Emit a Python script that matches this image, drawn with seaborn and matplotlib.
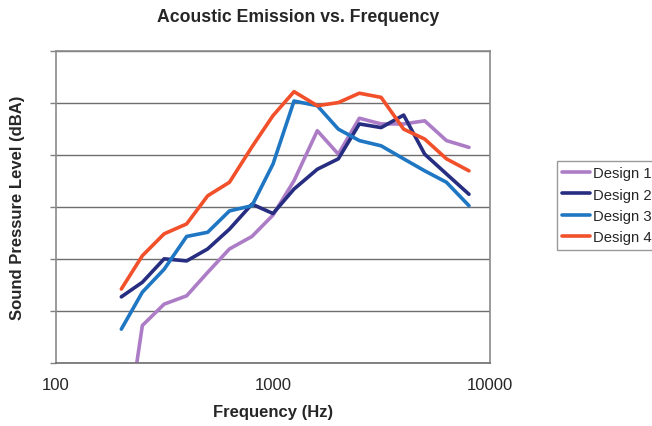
import numpy as np
import pandas as pd
import matplotlib
matplotlib.use('Agg')
import matplotlib.pyplot as plt
import seaborn as sns

sns.set_style('white')
plt.rcParams['font.family'] = ['Liberation Sans', 'DejaVu Sans']

# 1/3 octave band centre frequencies (Hz)
freq = [200, 250, 315, 400, 500, 630, 800, 1000, 1250, 1600,
        2000, 2500, 3150, 4000, 5000, 6300, 8000]

# sound pressure level (arbitrary dBA offset, grid every 10)
design1 = [-20.0, 7.2, 11.3, 12.9, 17.4, 21.9, 24.3, 28.4, 35.0, 44.6,
           40.1, 47.0, 45.9, 45.9, 46.5, 42.7, 41.4]
design2 = [12.7, 15.5, 20.0, 19.6, 21.9, 25.7, 30.5, 28.7, 33.4, 37.2,
           39.2, 45.9, 45.2, 47.6, 40.1, 36.3, 32.4]
design3 = [6.5, 13.6, 18.0, 24.3, 25.1, 29.2, 30.2, 38.2, 50.3, 49.4,
           44.9, 42.7, 41.7, 39.2, 36.9, 34.7, 30.2]
design4 = [14.2, 20.6, 24.8, 26.7, 32.1, 34.7, 41.5, 47.5, 52.1, 49.4,
           50.0, 51.8, 51.0, 44.9, 43.0, 39.2, 36.9]

names = ['Design 1', 'Design 2', 'Design 3', 'Design 4']
colors = ['#AC7DC6', '#272D80', '#1F77C3', '#F1502A']

df = pd.concat([
    pd.DataFrame({'Frequency': freq, 'SPL': vals, 'Design': n})
    for n, vals in zip(names, [design1, design2, design3, design4])
])

fig = plt.figure(figsize=(6.52, 4.27), dpi=100)
ax = fig.add_axes([56 / 652, 63 / 427, 434 / 652, 312.5 / 427])

sns.lineplot(data=df, x='Frequency', y='SPL', hue='Design', palette=colors,
             linewidth=2.6, ax=ax, legend=False)
for ln in ax.lines:
    ln.set_solid_joinstyle('round')
    ln.set_solid_capstyle('round')

ax.set_xscale('log')
ax.set_xlim(100, 10000)
ax.set_ylim(0, 60)
ax.set_yticks(np.arange(0, 61, 10))
ax.set_yticklabels([])
ax.set_xticks([100, 1000, 10000])
ax.set_xticklabels(['100', '1000', '10000'])
ax.xaxis.set_minor_locator(matplotlib.ticker.NullLocator())
ax.tick_params(axis='x', length=4, width=1, color='#808080', labelsize=12, pad=6)
ax.tick_params(axis='y', left=True, length=4, width=1, color='#808080')
ax.grid(axis='y', color='#6e6e6e', linewidth=1)
ax.set_axisbelow(True)
for sp in ax.spines.values():
    sp.set_color('#8a8a8a')
    sp.set_linewidth(1.2)
ax.spines['bottom'].set_color('#6e6e6e')

ax.set_xlabel('Frequency (Hz)', fontsize=12, fontweight='bold', labelpad=9)
ax.set_ylabel('Sound Pressure Level (dBA)', fontsize=12, fontweight='bold', labelpad=15)
fig.text(298 / 652, 1 - 18 / 427, 'Acoustic Emission vs. Frequency',
         ha='center', va='center', fontsize=12.7, fontweight='bold')

handles = [plt.Line2D([], [], color=c, linewidth=2.6) for c in colors]
fig.legend(handles, names, loc='upper left', bbox_to_anchor=(557 / 652, 1 - 162 / 427),
           fontsize=10.7, frameon=True, fancybox=False, edgecolor='#808080',
           handlelength=1.9, handletextpad=0.15, borderpad=0.35, labelspacing=0.5,
           borderaxespad=0)

fig.savefig('out.png', dpi=100)
